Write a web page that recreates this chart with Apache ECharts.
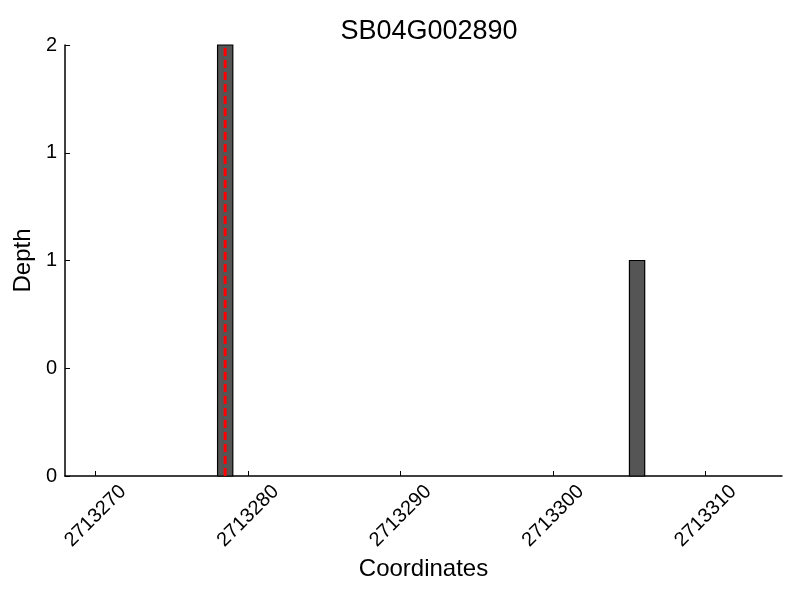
<!DOCTYPE html>
<html><head><meta charset="utf-8">
<script src="https://cdn.jsdelivr.net/npm/echarts@6/dist/echarts.min.js"></script>
<style>html,body{margin:0;padding:0;background:#fff}#c{width:800px;height:600px}</style>
</head><body><div id="c"></div>
<script>
var title = 'SB04G002890';
var binStarts = [2713278, 2713305];
var binEnds = [2713279, 2713306];
var depths = [2, 1];
var markerPos = [2713278.5];
var xTicks = [2713270, 2713280, 2713290, 2713300, 2713310];

var barData = binStarts.map(function(s, i){ return [s, binEnds[i], depths[i]]; });
var chart = echarts.init(document.getElementById('c'));
var font = 'Liberation Sans, Arial, sans-serif';
chart.setOption({
  animation: false,
  title: {text: title, left: 424, textAlign: 'center', top: 13,
    textStyle: {fontFamily: font, fontSize: 27, fontWeight: 'normal', color: '#000'}},
  grid: {left: 65, right: 18, top: 45, bottom: 124, containLabel: false, outerBoundsMode: 'none'},
  xAxis: {type: 'value', min: 2713268, max: 2713315, interval: 2,
    name: 'Coordinates', nameLocation: 'middle', nameGap: 80,
    nameTextStyle: {fontFamily: font, fontSize: 24, color: '#000'},
    axisLine: {lineStyle: {color: '#000', width: 1.5}},
    axisTick: {inside: true, length: 5, lineStyle: {color: '#000'},
      customValues: xTicks},
    axisLabel: {rotate: 45, fontFamily: font, fontSize: 20, color: '#000', margin: 40,
      align: 'center', verticalAlign: 'middle',
      customValues: xTicks, formatter: function(v){ return String(v); }},
    splitLine: {show: false}},
  yAxis: {type: 'value', min: 0, max: 2, interval: 0.5,
    name: 'Depth', nameLocation: 'middle', nameGap: 30,
    nameTextStyle: {fontFamily: font, fontSize: 24, color: '#000'},
    axisLine: {show: true, lineStyle: {color: '#000', width: 1.5}},
    axisTick: {show: true, inside: true, length: 5, lineStyle: {color: '#000'}},
    axisLabel: {fontFamily: font, fontSize: 20, color: '#000', margin: 8,
      formatter: function(v){ return String(Math.floor(v)); }},
    splitLine: {show: false}},
  series: [{
    type: 'custom',
    data: barData,
    encode: {x: [0, 1], y: 2},
    renderItem: function(params, api){
      var p0 = api.coord([api.value(0), 0]);
      var p1 = api.coord([api.value(1), api.value(2)]);
      return {type: 'rect', shape: {x: p0[0], y: p1[1], width: p1[0]-p0[0], height: p0[1]-p1[1]},
        style: {fill: '#555555', stroke: '#000', lineWidth: 1.2}};
    },
    z: 2
  }, {
    type: 'line',
    data: markerPos.reduce(function(a, m){ return a.concat([[m, 0], [m, 2]]); }, []),
    symbol: 'none',
    lineStyle: {color: '#ff0000', width: 3, type: [8, 4]},
    z: 3
  }]
});
</script></body></html>
